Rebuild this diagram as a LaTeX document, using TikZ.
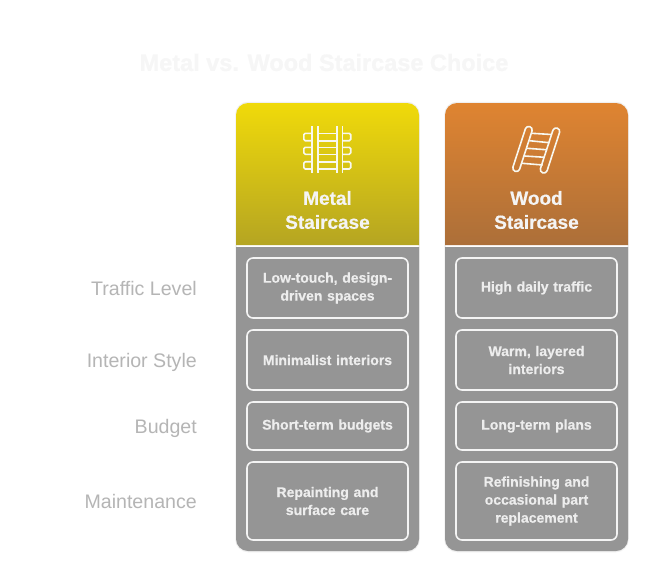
\documentclass[tikz,border=0pt]{standalone}
\usepackage{fontspec}
\setmainfont[BoldFeatures={FakeBold=0.5}]{Liberation Sans}
\definecolor{panel}{HTML}{959595}
\definecolor{edge}{HTML}{F0F0F0}
\definecolor{cellline}{HTML}{F4F4F4}
\definecolor{celltext}{HTML}{EDEDED}
\definecolor{rowtext}{HTML}{B5B5B5}
\definecolor{titletext}{HTML}{F6F6F6}
\definecolor{icontone}{HTML}{F8F8F0}
\definecolor{metaltop}{HTML}{F0DA0A}
\definecolor{metalbot}{HTML}{B5A522}
\definecolor{woodtop}{HTML}{DF8431}
\definecolor{woodbot}{HTML}{AC6F39}
\tikzset{
  cell/.style={draw=cellline,line width=1.6pt,rounded corners=6pt,fill=panel,align=center,
    text=celltext,font=\fontsize{14}{18}\selectfont\bfseries,inner sep=0pt,
    minimum width=161pt,text width=150pt},
  rowlabel/.style={anchor=base east,text=rowtext,font=\fontsize{19.6}{22}\selectfont,inner sep=0pt},
  head/.style={align=center,text=celltext!60!white,font=\fontsize{19}{24}\selectfont\bfseries,inner sep=0pt},
  icon/.style={draw=icontone,line width=1.6pt},
  rail/.style={draw=icontone,line width=1.6pt,rectangle,rounded corners=3.4pt,minimum width=47pt,minimum height=7pt,inner sep=0pt,rotate=72},
}
\begin{document}
\begin{tikzpicture}[x=1pt,y=-1pt]
\useasboundingbox[fill=white] (0,0) rectangle (669,578);
\node (title) at (324,62.5) [text=titletext,font=\fontsize{23.5}{28}\selectfont\bfseries,inner sep=0pt] {Metal vs. Wood Staircase Choice};

% panels
\foreach \x/\c in {236/metal,445/wood}{
  \draw[edge,line width=1.5pt,rounded corners=12pt] (\x,102.5) rectangle (\x+183,551.5);
  \fill[panel] (\x,247) [rounded corners=12pt] -- (\x,551) -- (\x+183,551) [sharp corners] -- (\x+183,247) -- cycle;
  \path[top color=\c top,bottom color=\c bot] (\x,245) [rounded corners=12pt] -- (\x,103) -- (\x+183,103) [sharp corners] -- (\x+183,245) -- cycle;
}

% metal icon
\foreach \x in {312,317.7,336.7,342.5} \draw[icon] (\x,126) -- (\x,173.3);
\foreach \y in {133.3,140.7,147.3,154.3,161.7,169} \draw[icon] (317.7,\y) -- (336.7,\y);
\foreach \a/\b in {133.3/140.7,147.3/154.3,161.7/169}{
  \draw[icon,rounded corners=1.5pt] (312,\a) -- (303.8,\a) -- (303.8,\b) -- (312,\b);
  \draw[icon,rounded corners=1.5pt] (342.5,\a) -- (350.7,\a) -- (350.7,\b) -- (342.5,\b);
}
% wood icon
\node[rail] (railA) at (522.5,149) {};
\node[rail] (railB) at (550,150.5) {};
\foreach \a/\b/\c/\d in {531.7/133.3/551.5/134.5,529.5/140.7/549.3/142.7,527.2/148.3/547.2/149.8,524.5/156/544.8/157.3,522/163.3/542.7/165}
  \draw[icon] (\a,\b) -- (\c,\d);

\node[head] (metalhead) at (327.5,210) {Metal\\Staircase};
\node[head] (woodhead) at (536.5,210) {Wood\\Staircase};

% row labels
\node[rowlabel] (r1) at (197,295) {Traffic Level};
\node[rowlabel] (r2) at (197,367) {Interior Style};
\node[rowlabel] (r3) at (197,433) {Budget};
\node[rowlabel] (r4) at (197,508) {Maintenance};

% cells
\node[cell,minimum height=60pt] (m1) at (327.5,288) {\raisebox{-.5pt}{Low-touch, design-}\\\raisebox{-.5pt}{driven spaces}};
\node[cell,minimum height=60pt] (m2) at (327.5,360) {Minimalist interiors};
\node[cell,minimum height=48pt] (m3) at (327.5,426) {Short-term budgets};
\node[cell,minimum height=78pt] (m4) at (327.5,501) {\raisebox{-.5pt}{Repainting and}\\\raisebox{-.5pt}{surface care}};
\node[cell,minimum height=60pt] (w1) at (536.5,288) {High daily traffic};
\node[cell,minimum height=60pt] (w2) at (536.5,360) {\raisebox{-.5pt}{Warm, layered}\\\raisebox{-.5pt}{interiors}};
\node[cell,minimum height=48pt] (w3) at (536.5,426) {Long-term plans};
\node[cell,minimum height=78pt] (w4) at (536.5,501) {\raisebox{-.5pt}{Refinishing and}\\\raisebox{-.5pt}{occasional part}\\\raisebox{-.5pt}{replacement}};
\end{tikzpicture}
\end{document}
